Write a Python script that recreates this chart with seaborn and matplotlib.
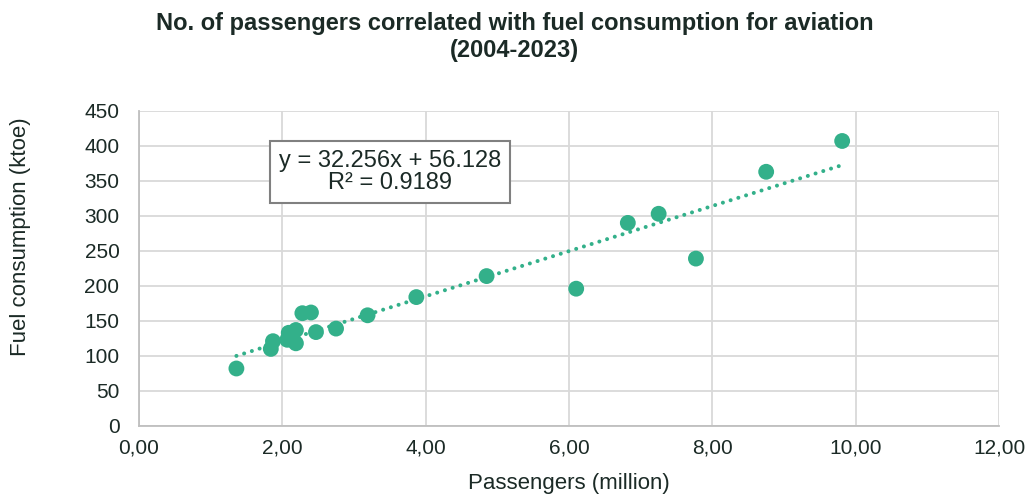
import numpy as np
import pandas as pd
import matplotlib
matplotlib.use("Agg")
import matplotlib.pyplot as plt
import seaborn as sns

# Data
passengers = [1.36, 1.84, 1.87, 2.07, 2.09, 2.19, 2.19, 2.28, 2.40, 2.47,
              2.75, 3.19, 3.87, 4.85, 6.10, 6.82, 7.25, 7.77, 8.75, 9.81]
fuel = [82, 110, 121, 123, 133, 137, 118, 161, 162, 134,
        139, 158, 184, 214, 196, 290, 303, 239, 363, 407]
slope = 32.256
intercept = 56.128
r_squared = 0.9189
x_ticks = [0, 2, 4, 6, 8, 10, 12]
y_ticks = [0, 50, 100, 150, 200, 250, 300, 350, 400, 450]

sns.set_style("white")
plt.rcParams["font.family"] = ["Liberation Sans", "DejaVu Sans"]
txt = "#1b2a26"
green = "#33b08a"

W, H = 1029, 495
fig = plt.figure(figsize=(W / 100, H / 100), dpi=100)
ax = fig.add_axes([0.135, 0.1396, 0.836, 0.6364])

df = pd.DataFrame({"x": passengers, "y": fuel})
sns.scatterplot(data=df, x="x", y="y", ax=ax, color=green, s=130,
                edgecolor="none", zorder=3)

tx = np.array([min(passengers), max(passengers)])
trend = pd.DataFrame({"x": tx, "y": slope * tx + intercept})
sns.lineplot(data=trend, x="x", y="y", ax=ax, color=green, lw=2.9,
             linestyle=(0, (0.01, 2.0)), dash_capstyle="round", zorder=2)

ax.set_xlim(0, 12)
ax.set_ylim(0, 450)
ax.set_xticks(x_ticks)
ax.set_xticklabels([f"{v:.2f}".replace(".", ",") for v in x_ticks])
ax.set_yticks(y_ticks)
ax.grid(True, color="#d9d9d9", lw=1.3)
ax.set_axisbelow(True)
for side in ["top", "right"]:
    ax.spines[side].set_visible(False)
for side in ["left", "bottom"]:
    ax.spines[side].set_color("#bfbfbf")
    ax.spines[side].set_linewidth(1.3)
ax.tick_params(axis="both", length=0, labelsize=15, colors=txt)
ax.tick_params(axis="y", pad=14)
ax.tick_params(axis="x", pad=9)
ax.set_xlabel("Passengers (million)", fontsize=16, color=txt, labelpad=11)
ax.set_ylabel("Fuel consumption (ktoe)", fontsize=16, color=txt)
ax.yaxis.set_label_coords(-0.125, 0.6)

fig.text(0.5, 1 - 12 / H, "No. of passengers correlated with fuel consumption for aviation\n(2004-2023)",
         ha="center", va="top", fontsize=17, fontweight="bold", color=txt,
         linespacing=1.25)

ax.text(390 / W, 1 - 172 / H, f"y = {slope}x + {intercept}\nR² = {r_squared}",
        transform=fig.transFigure, ha="center", va="center", fontsize=17,
        color=txt, linespacing=1.05,
        bbox=dict(boxstyle="square,pad=0.38", fc="white", ec="#808080", lw=1.5))

fig.savefig("out.png", dpi=100)
